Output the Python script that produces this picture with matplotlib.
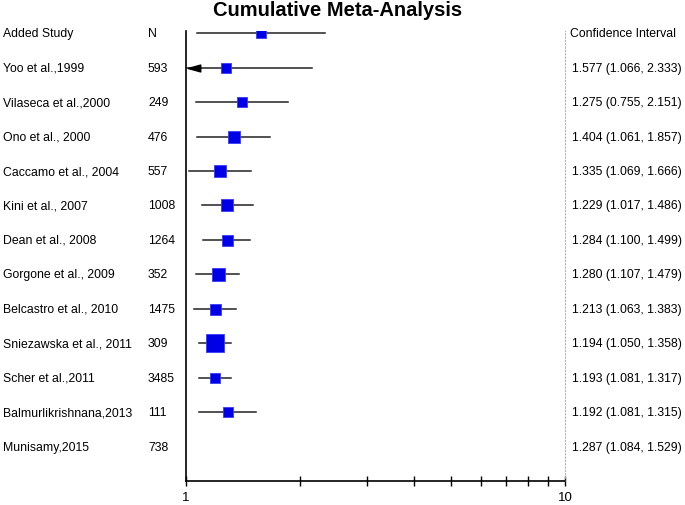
import numpy as np
import matplotlib.pyplot as plt
from matplotlib.transforms import blended_transform_factory
from matplotlib.ticker import FixedLocator, NullFormatter

plt.rcParams['font.family'] = ['Liberation Sans', 'DejaVu Sans']

studies = ["Yoo et al.,1999", "Vilaseca et al.,2000", "Ono et al., 2000",
           "Caccamo et al., 2004", "Kini et al., 2007", "Dean et al., 2008",
           "Gorgone et al., 2009", "Belcastro et al., 2010",
           "Sniezawska et al., 2011", "Scher et al.,2011",
           "Balmurlikrishnana,2013", "Munisamy,2015"]
n_sizes = [593, 249, 476, 557, 1008, 1264, 352, 1475, 309, 3485, 111, 738]
estimate = [1.577, 1.275, 1.404, 1.335, 1.229, 1.284, 1.280, 1.213, 1.194, 1.193, 1.192, 1.287]
lower = [1.066, 0.755, 1.061, 1.069, 1.017, 1.100, 1.107, 1.063, 1.050, 1.081, 1.081, 1.084]
upper = [2.333, 2.151, 1.857, 1.666, 1.486, 1.499, 1.479, 1.383, 1.358, 1.317, 1.315, 1.529]
box_weight = [10, 10, 10.7, 11.3, 12, 12, 11, 13, 11, 17.7, 10, 10.7]

W, H = 685, 506
fig = plt.figure(figsize=(W / 100, H / 100), dpi=100)
ax = fig.add_axes([186 / W, 1 - 482 / H, (565 - 186) / W, (482 - 32) / H])
ax.set_xscale('log')
ax.set_xlim(1, 10)
ax.set_ylim(12.99, -0.06)

arrow_head = [(-1, 0), (1, 0.55), (1, -0.55), (-1, 0)]

# boxes and whiskers are drawn one row above their label (as in the original)
for i in range(len(estimate)):
    y = i
    lo = max(lower[i], 1.0)
    ax.plot([lo, upper[i]], [y, y], color='#222222', lw=1.1, zorder=2)
    if lower[i] < 1:
        ax.plot(1.047, y, marker=arrow_head, color='black', markersize=9, zorder=3)
    ax.scatter(estimate[i], y, marker='s', s=(box_weight[i] * 0.72) ** 2,
               color='#0000e6', edgecolor='#3a3aff', linewidth=0.6, zorder=4)

ax.spines['top'].set_visible(False)
ax.spines['right'].set_linestyle((0, (1, 2)))
ax.spines['right'].set_color('#b0b0b0')
ax.spines['right'].set_linewidth(0.8)
ax.spines['left'].set_linewidth(1.2)
ax.spines['bottom'].set_linewidth(1.2)
ax.set_yticks([])
ax.xaxis.set_major_locator(FixedLocator([1, 10]))
ax.xaxis.set_minor_locator(FixedLocator(range(2, 10)))
ax.xaxis.set_minor_formatter(NullFormatter())
ax.set_xticklabels(['1', '10'])
ax.tick_params(axis='x', which='both', direction='inout', length=7, width=1, labelsize=9.5, pad=4)

tr = blended_transform_factory(fig.transFigure, ax.transData)
fs = 8.8
ax.text(3 / W, 0, "Added Study", transform=tr, va='center', ha='left', fontsize=fs)
ax.text(148 / W, 0, "N", transform=tr, va='center', ha='left', fontsize=fs)
ax.text(570 / W, 0, "Confidence Interval", transform=tr, va='center', ha='left', fontsize=fs)
for i, name in enumerate(studies):
    y = i + 1
    ax.text(3 / W, y, name, transform=tr, va='center', ha='left', fontsize=fs)
    ax.text(148 / W, y, str(n_sizes[i]), transform=tr, va='center', ha='left', fontsize=fs)
    ax.text(572 / W, y, f"{estimate[i]:.3f} ({lower[i]:.3f}, {upper[i]:.3f})",
            transform=tr, va='center', ha='left', fontsize=fs)

fig.text(338 / W, 1 - 11 / H, "Cumulative Meta-Analysis", ha='center', va='center',
         fontsize=14.5, fontweight='bold')

fig.savefig('out.png', dpi=100)
